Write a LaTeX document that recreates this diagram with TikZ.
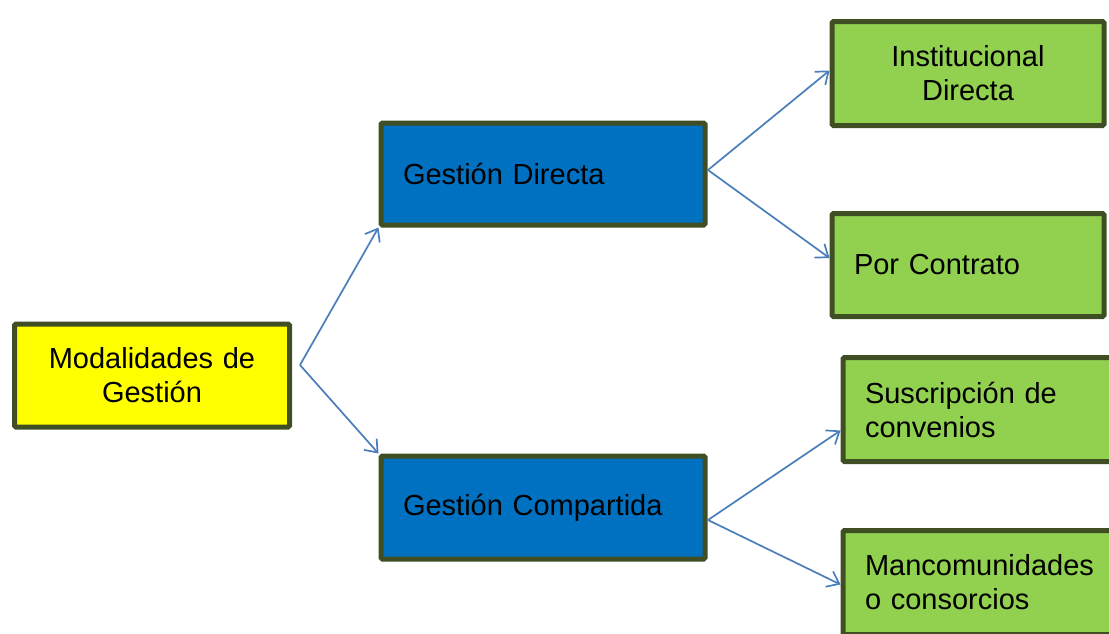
\documentclass[tikz,border=0pt]{standalone}
\usepackage{fontspec}
\setmainfont{Liberation Sans}
\usetikzlibrary{arrows.meta}
\definecolor{bord}{RGB}{64,78,36}
\definecolor{yel}{RGB}{255,255,0}
\definecolor{blu}{RGB}{0,112,192}
\definecolor{grn}{RGB}{146,208,80}
\definecolor{arr}{RGB}{74,126,187}
\tikzset{
  box/.style={draw=bord, line width=5pt, rounded corners=1.5pt, inner ysep=0pt,
    font=\fontsize{29}{34}\selectfont, text=black},
  conn/.style={draw=arr, line width=1.7pt, -{Straight Barb[length=11pt,width=17pt,line width=1.7pt]}}
}
\begin{document}
\begin{tikzpicture}[x=1pt,y=-1pt]
\useasboundingbox (0,0) rectangle (1109,633);
\clip (0,0) rectangle (1109,633);
\node[box, fill=yel, minimum width=275pt, minimum height=103pt, text width=260pt, inner xsep=7.5pt, align=center] (mod) at (152,375.5) {Modalidades de\\Gestión};
\node[box, fill=blu, minimum width=324pt, minimum height=102pt, text width=280pt, inner xsep=22pt, align=left] (gd) at (543,174) {Gestión Directa};
\node[box, fill=blu, minimum width=324pt, minimum height=103pt, text width=280pt, inner xsep=22pt, align=left] (gc) at (543,507.5) {Gestión Compartida};
\node[box, fill=grn, minimum width=272pt, minimum height=104pt, text width=260pt, inner xsep=6pt, align=center] (id) at (968,73.5) {Institucional\\Directa};
\node[box, fill=grn, minimum width=272pt, minimum height=103pt, text width=228pt, inner xsep=22pt, align=left] (pc) at (968,265) {Por Contrato};
\node[box, fill=grn, minimum width=272pt, minimum height=104pt, text width=228pt, inner xsep=22pt, align=left] (sc) at (979,409.5) {Suscripción de\\convenios};
\node[box, fill=grn, minimum width=272pt, minimum height=104pt, text width=228pt, inner xsep=22pt, align=left] (mc) at (979,582.5) {Mancomunidades\\o consorcios};
\coordinate (mo) at (300,365);
\coordinate (gdo) at (708,170);
\coordinate (gco) at (708,520);
\draw[conn] (mo) -- (gd.south west);
\draw[conn] (mo) -- (gc.north west);
\draw[conn] (gdo) -- ([yshift=3pt]id.west);
\draw[conn] (gdo) -- ([yshift=7pt]pc.west);
\draw[conn] (gco) -- ([yshift=-21pt]sc.west);
\draw[conn] (gco) -- ([yshift=-2pt]mc.west);
\end{tikzpicture}
\end{document}
